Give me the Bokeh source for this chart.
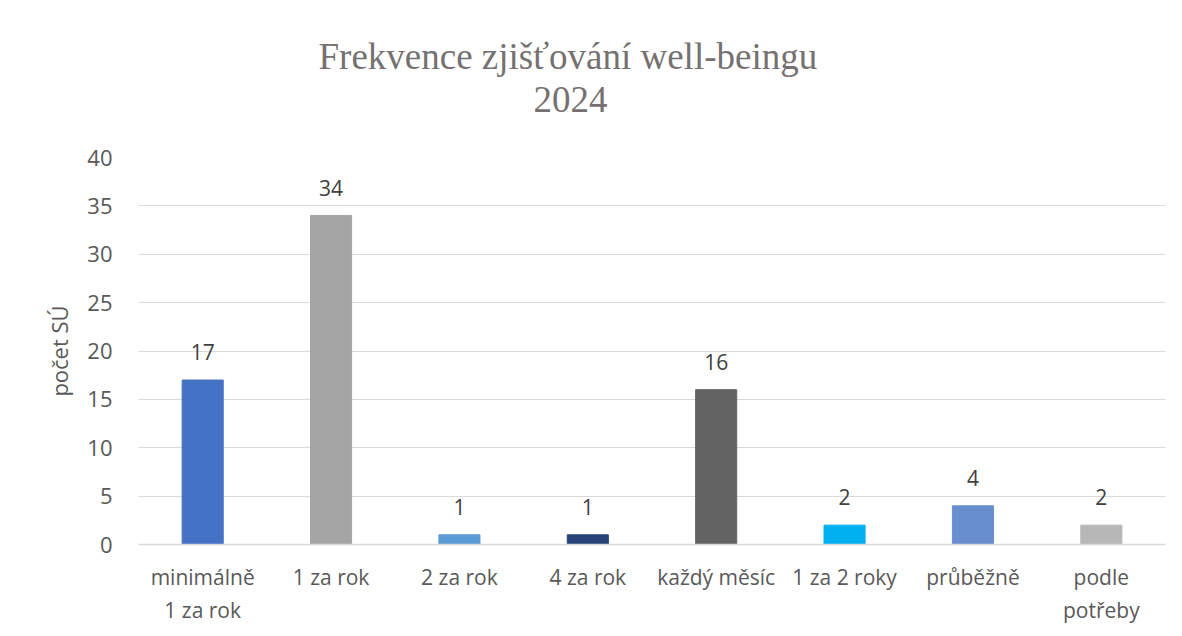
from bokeh.plotting import figure
from bokeh.models import Range1d, FixedTicker, ColumnDataSource, Title
from bokeh.core.properties import value
from bokeh.embed import file_html
from bokeh.resources import INLINE

categories = ["minimálně\n1 za rok", "1 za rok", "2 za rok", "4 za rok",
              "každý měsíc", "1 za 2 roky", "průběžně", "podle\npotřeby"]
counts = [17, 34, 1, 1, 16, 2, 4, 2]
colors = ["#4472C4", "#A5A5A5", "#5B9BD5", "#264478",
          "#636363", "#00B0F0", "#698ED0", "#B7B7B7"]
y_ticks = [0, 5, 10, 15, 20, 25, 30, 35, 40]
title_lines = ["Frekvence zjišťování well-beingu", "2024"]
y_label = "počet SÚ"

src = ColumnDataSource(dict(cat=categories, val=counts, col=colors,
                            lab=[str(v) for v in counts]))

p = figure(x_range=categories, y_range=Range1d(0, 40),
           width=1166, height=632, output_backend="svg",
           toolbar_location=None, min_border_left=138, min_border_right=1,
           min_border_top=157, min_border_bottom=88)
p.outline_line_color = None
p.background_fill_color = "white"
p.border_fill_color = "white"

p.vbar(x="cat", top="val", width=0.32, color="col", source=src)
p.text(x="cat", y="val", text="lab", source=src, text_align="center",
       text_baseline="middle", y_offset=-28, text_font=value("Open Sans"),
       text_font_size="21px", text_color="#404040")

p.xgrid.grid_line_color = None
p.ygrid.grid_line_color = "#D9D9D9"
p.ygrid.grid_line_width = 1

p.yaxis.ticker = FixedTicker(ticks=y_ticks)
p.yaxis.axis_line_color = None
p.yaxis.major_tick_line_color = None
p.yaxis.minor_tick_line_color = None
p.yaxis.major_label_text_font = "Open Sans"
p.yaxis.major_label_text_font_size = "22px"
p.yaxis.major_label_text_color = "#595959"
p.yaxis.major_label_standoff = 20
p.yaxis.axis_label = y_label
p.yaxis.axis_label_text_font = "Open Sans"
p.yaxis.axis_label_text_font_size = "22px"
p.yaxis.axis_label_text_font_style = "normal"
p.yaxis.axis_label_text_color = "#595959"
p.yaxis.axis_label_standoff = 10

p.xaxis.axis_line_color = "#D9D9D9"
p.xaxis.axis_line_width = 1.5
p.xaxis.major_tick_line_color = None
p.xaxis.minor_tick_line_color = None
p.xaxis.major_label_text_font = "Open Sans"
p.xaxis.major_label_text_font_size = "21px"
p.xaxis.major_label_text_color = "#595959"
p.xaxis.major_label_standoff = 12

# titles: first added is nearest the frame
p.add_layout(Title(text=title_lines[1], align="left", offset=395, standoff=92,
                   text_font="Liberation Serif", text_font_size="37px",
                   text_font_style="normal", text_color="#767171"), "above")
p.add_layout(Title(text=title_lines[0], align="left", offset=180, standoff=-77,
                   text_font="Liberation Serif", text_font_size="37px",
                   text_font_style="normal", text_color="#767171"), "above")

open("out.html", "w").write(file_html(p, INLINE))
